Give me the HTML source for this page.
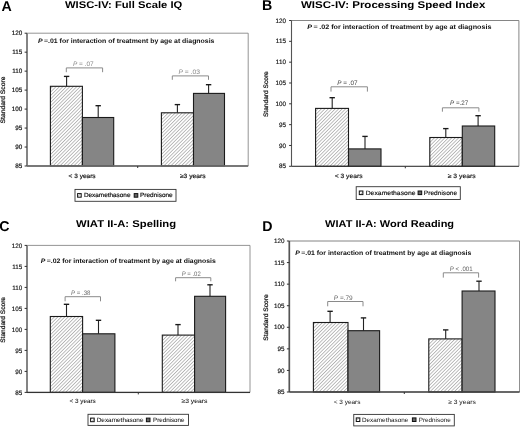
<!DOCTYPE html>
<html><head><meta charset="utf-8"><style>
html,body{margin:0;padding:0;background:#fff;}
svg{display:block;font-family:"Liberation Sans", sans-serif;will-change:transform;}
</style></head><body>
<svg width="520" height="427" viewBox="0 0 520 427" text-rendering="geometricPrecision">
<defs>
<pattern id="hatch" patternUnits="userSpaceOnUse" width="2.45" height="2.45" patternTransform="rotate(45)">
<rect width="2.45" height="2.45" fill="#fff"/><rect x="0" y="0" width="0.85" height="2.45" fill="#b2b2b2"/>
</pattern>
</defs>
<rect width="520" height="427" fill="#fff"/>
<path d="M27 33.2H248.2V166" fill="none" stroke="#888" stroke-width="0.9"/>
<path d="M66.6 86.3V76.4" stroke="#222" stroke-width="1.1" fill="none"/><path d="M63.9 76.4H69.3" stroke="#1a1a1a" stroke-width="1.35" fill="none"/>
<rect x="50.4" y="86.3" width="32" height="79.7" fill="url(#hatch)" stroke="#1a1a1a" stroke-width="1.1"/>
<path d="M98.2 117.5V105.7" stroke="#222" stroke-width="1.1" fill="none"/><path d="M95.5 105.7H100.9" stroke="#1a1a1a" stroke-width="1.35" fill="none"/>
<rect x="82.4" y="117.5" width="31.3" height="48.5" fill="#858585" stroke="#1a1a1a" stroke-width="1.1"/>
<path d="M177.4 112.8V104.6" stroke="#222" stroke-width="1.1" fill="none"/><path d="M174.7 104.6H180.1" stroke="#1a1a1a" stroke-width="1.35" fill="none"/>
<rect x="161.4" y="112.8" width="32.1" height="53.2" fill="url(#hatch)" stroke="#1a1a1a" stroke-width="1.1"/>
<path d="M208.6 93.4V84.7" stroke="#222" stroke-width="1.1" fill="none"/><path d="M205.9 84.7H211.3" stroke="#1a1a1a" stroke-width="1.35" fill="none"/>
<rect x="193.5" y="93.4" width="31" height="72.6" fill="#858585" stroke="#1a1a1a" stroke-width="1.1"/>
<rect x="26.1" y="33.2" width="1.8" height="132.8" fill="#777"/>
<rect x="27" y="165.1" width="221.2" height="1.8" fill="#6a6a6a"/>
<rect x="24.6" y="32.7" width="2.4" height="1" fill="#333"/>
<text transform="translate(22.2,35.3) scale(1,1)" font-size="6.3" fill="#111" stroke="#111" stroke-width="0.18" text-anchor="end">120</text>
<rect x="24.6" y="51.67" width="2.4" height="1" fill="#333"/>
<text transform="translate(22.2,54.27) scale(1,1)" font-size="6.3" fill="#111" stroke="#111" stroke-width="0.18" text-anchor="end">115</text>
<rect x="24.6" y="70.64" width="2.4" height="1" fill="#333"/>
<text transform="translate(22.2,73.24) scale(1,1)" font-size="6.3" fill="#111" stroke="#111" stroke-width="0.18" text-anchor="end">110</text>
<rect x="24.6" y="89.61" width="2.4" height="1" fill="#333"/>
<text transform="translate(22.2,92.21) scale(1,1)" font-size="6.3" fill="#111" stroke="#111" stroke-width="0.18" text-anchor="end">105</text>
<rect x="24.6" y="108.59" width="2.4" height="1" fill="#333"/>
<text transform="translate(22.2,111.19) scale(1,1)" font-size="6.3" fill="#111" stroke="#111" stroke-width="0.18" text-anchor="end">100</text>
<rect x="24.6" y="127.56" width="2.4" height="1" fill="#333"/>
<text transform="translate(22.2,130.16) scale(1,1)" font-size="6.3" fill="#111" stroke="#111" stroke-width="0.18" text-anchor="end">95</text>
<rect x="24.6" y="146.53" width="2.4" height="1" fill="#333"/>
<text transform="translate(22.2,149.13) scale(1,1)" font-size="6.3" fill="#111" stroke="#111" stroke-width="0.18" text-anchor="end">90</text>
<rect x="24.6" y="165.5" width="2.4" height="1" fill="#333"/>
<text transform="translate(22.2,168.1) scale(1,1)" font-size="6.3" fill="#111" stroke="#111" stroke-width="0.18" text-anchor="end">85</text>
<rect x="137.2" y="166" width="1" height="2" fill="#333"/>
<text transform="translate(5.3,123.5) rotate(-90)" font-size="6.4" font-weight="normal" fill="#111" stroke="#111" stroke-width="0.22" textLength="47" lengthAdjust="spacingAndGlyphs">Standard Score</text>
<text x="38" y="42.7" font-size="6.5" font-weight="bold" fill="#111" textLength="176.5" lengthAdjust="spacingAndGlyphs" text-anchor="start"><tspan font-style="italic">P</tspan> =.01 for interaction of treatment by age at diagnosis</text>
<path d="M66.3 72.2V67.9H102.6V72.2" fill="none" stroke="#8a8a8a" stroke-width="1"/>
<text x="72.9" y="65.8" font-size="6.4" font-weight="normal" fill="#8a8a8a" textLength="20.8" lengthAdjust="spacingAndGlyphs" text-anchor="start"><tspan font-style="italic">P</tspan> = .07</text>
<path d="M172.3 79.8V75.9H208.5V79.8" fill="none" stroke="#8a8a8a" stroke-width="1"/>
<text x="178.5" y="73.8" font-size="6.4" font-weight="normal" fill="#8a8a8a" textLength="21.5" lengthAdjust="spacingAndGlyphs" text-anchor="start"><tspan font-style="italic">P</tspan> = .03</text>
<text x="68.6" y="178.1" font-size="6.2" font-weight="normal" fill="#111" textLength="27" lengthAdjust="spacingAndGlyphs" text-anchor="start" stroke="#111" stroke-width="0.18">&lt; 3 years</text>
<text x="179.9" y="178.1" font-size="6.2" font-weight="normal" fill="#111" textLength="25.6" lengthAdjust="spacingAndGlyphs" text-anchor="start" stroke="#111" stroke-width="0.18">≥3 years</text>
<rect x="75" y="189.4" width="101" height="11.9" fill="#fff" stroke="#333" stroke-width="0.9"/>
<rect x="77.6" y="193.6" width="3.6" height="3.6" fill="url(#hatch)" stroke="#111" stroke-width="1"/>
<rect x="134.2" y="193.6" width="3.6" height="3.6" fill="#666" stroke="#111" stroke-width="1"/>
<text x="83.9" y="196.7" font-size="6.2" font-weight="normal" fill="#111" textLength="46.6" lengthAdjust="spacingAndGlyphs" text-anchor="start" stroke="#111" stroke-width="0.18">Dexamethasone</text>
<text x="140" y="196.7" font-size="6.2" font-weight="normal" fill="#111" textLength="32.7" lengthAdjust="spacingAndGlyphs" text-anchor="start" stroke="#111" stroke-width="0.18">Prednisone</text>
<text x="1.4" y="10.6" font-size="14.2" font-weight="bold" fill="#000" text-anchor="start">A</text>
<text x="65" y="7.7" font-size="9.8" font-weight="bold" fill="#000" textLength="117.3" lengthAdjust="spacingAndGlyphs" text-anchor="start">WISC-IV: Full Scale IQ</text>
<path d="M291.5 20.5H518.9V166.3" fill="none" stroke="#777" stroke-width="0.9"/>
<path d="M332.2 108.4V97.7" stroke="#222" stroke-width="1.1" fill="none"/><path d="M329.5 97.7H334.9" stroke="#1a1a1a" stroke-width="1.35" fill="none"/>
<rect x="315.6" y="108.4" width="32.9" height="57.9" fill="url(#hatch)" stroke="#1a1a1a" stroke-width="1.1"/>
<path d="M365 148.9V136.4" stroke="#222" stroke-width="1.1" fill="none"/><path d="M362.3 136.4H367.7" stroke="#1a1a1a" stroke-width="1.35" fill="none"/>
<rect x="348.5" y="148.9" width="32.5" height="17.4" fill="#858585" stroke="#1a1a1a" stroke-width="1.1"/>
<path d="M445.8 137.5V128.6" stroke="#222" stroke-width="1.1" fill="none"/><path d="M443.1 128.6H448.5" stroke="#1a1a1a" stroke-width="1.35" fill="none"/>
<rect x="429.8" y="137.5" width="32.5" height="28.8" fill="url(#hatch)" stroke="#1a1a1a" stroke-width="1.1"/>
<path d="M478.1 126V115.7" stroke="#222" stroke-width="1.1" fill="none"/><path d="M475.4 115.7H480.8" stroke="#1a1a1a" stroke-width="1.35" fill="none"/>
<rect x="462.3" y="126" width="32.4" height="40.3" fill="#858585" stroke="#1a1a1a" stroke-width="1.1"/>
<rect x="290.95" y="20.5" width="1.1" height="145.8" fill="#555"/>
<rect x="291.5" y="165.75" width="227.4" height="1.1" fill="#333"/>
<rect x="289.1" y="20" width="2.4" height="1" fill="#333"/>
<text transform="translate(285.9,22.6) scale(1,1)" font-size="6.3" fill="#111" stroke="#111" stroke-width="0.15" text-anchor="end">120</text>
<rect x="289.1" y="40.83" width="2.4" height="1" fill="#333"/>
<text transform="translate(285.9,43.43) scale(1,1)" font-size="6.3" fill="#111" stroke="#111" stroke-width="0.15" text-anchor="end">115</text>
<rect x="289.1" y="61.66" width="2.4" height="1" fill="#333"/>
<text transform="translate(285.9,64.26) scale(1,1)" font-size="6.3" fill="#111" stroke="#111" stroke-width="0.15" text-anchor="end">110</text>
<rect x="289.1" y="82.49" width="2.4" height="1" fill="#333"/>
<text transform="translate(285.9,85.09) scale(1,1)" font-size="6.3" fill="#111" stroke="#111" stroke-width="0.15" text-anchor="end">105</text>
<rect x="289.1" y="103.31" width="2.4" height="1" fill="#333"/>
<text transform="translate(285.9,105.91) scale(1,1)" font-size="6.3" fill="#111" stroke="#111" stroke-width="0.15" text-anchor="end">100</text>
<rect x="289.1" y="124.14" width="2.4" height="1" fill="#333"/>
<text transform="translate(285.9,126.74) scale(1,1)" font-size="6.3" fill="#111" stroke="#111" stroke-width="0.15" text-anchor="end">95</text>
<rect x="289.1" y="144.97" width="2.4" height="1" fill="#333"/>
<text transform="translate(285.9,147.57) scale(1,1)" font-size="6.3" fill="#111" stroke="#111" stroke-width="0.15" text-anchor="end">90</text>
<rect x="289.1" y="165.8" width="2.4" height="1" fill="#333"/>
<text transform="translate(285.9,168.4) scale(1,1)" font-size="6.3" fill="#111" stroke="#111" stroke-width="0.15" text-anchor="end">85</text>
<rect x="404.8" y="166.3" width="1" height="2" fill="#333"/>
<text transform="translate(268.3,117.1) rotate(-90)" font-size="6.4" font-weight="normal" fill="#111" stroke="#111" stroke-width="0.22" textLength="45.9" lengthAdjust="spacingAndGlyphs">Standard Score</text>
<text x="307.3" y="29" font-size="6.5" font-weight="bold" fill="#111" textLength="184.2" lengthAdjust="spacingAndGlyphs" text-anchor="start"><tspan font-style="italic">P</tspan> = .02 for interaction of treatment by age at diagnosis</text>
<path d="M331 91.6V86.8H367.4V91.6" fill="none" stroke="#8a8a8a" stroke-width="1"/>
<text x="337.2" y="84.6" font-size="6.4" font-weight="normal" fill="#444" textLength="20.4" lengthAdjust="spacingAndGlyphs" text-anchor="start"><tspan font-style="italic">P</tspan> = .07</text>
<path d="M442.4 111.7V107.8H478.9V111.7" fill="none" stroke="#8a8a8a" stroke-width="1"/>
<text x="450" y="105.1" font-size="6.4" font-weight="normal" fill="#444" textLength="18.3" lengthAdjust="spacingAndGlyphs" text-anchor="start"><tspan font-style="italic">P</tspan> =.27</text>
<text x="334.7" y="177.8" font-size="6.2" font-weight="normal" fill="#111" textLength="27.9" lengthAdjust="spacingAndGlyphs" text-anchor="start" stroke="#111" stroke-width="0.15">&lt; 3 years</text>
<text x="447.7" y="177.8" font-size="6.2" font-weight="normal" fill="#111" textLength="28" lengthAdjust="spacingAndGlyphs" text-anchor="start" stroke="#111" stroke-width="0.15">≥ 3 years</text>
<rect x="356.2" y="186.7" width="104.1" height="12.8" fill="#fff" stroke="#333" stroke-width="0.9"/>
<rect x="359.3" y="191" width="3.6" height="3.6" fill="url(#hatch)" stroke="#111" stroke-width="1"/>
<rect x="418.1" y="191" width="3.6" height="3.6" fill="#666" stroke="#111" stroke-width="1"/>
<text x="365.7" y="194.5" font-size="6.2" font-weight="normal" fill="#111" textLength="49.8" lengthAdjust="spacingAndGlyphs" text-anchor="start" stroke="#111" stroke-width="0.15">Dexamethasone</text>
<text x="423.8" y="194.5" font-size="6.2" font-weight="normal" fill="#111" textLength="33.4" lengthAdjust="spacingAndGlyphs" text-anchor="start" stroke="#111" stroke-width="0.15">Prednisone</text>
<text x="262" y="9.6" font-size="14.2" font-weight="bold" fill="#000" text-anchor="start">B</text>
<text x="301" y="7.9" font-size="9.8" font-weight="bold" fill="#000" textLength="184.4" lengthAdjust="spacingAndGlyphs" text-anchor="start">WISC-IV: Processing Speed Index</text>
<path d="M27 245.4H250V392.4" fill="none" stroke="#888" stroke-width="0.9"/>
<path d="M66.5 316.5V304.3" stroke="#222" stroke-width="1.1" fill="none"/><path d="M63.8 304.3H69.2" stroke="#1a1a1a" stroke-width="1.35" fill="none"/>
<rect x="50.3" y="316.5" width="32.3" height="75.9" fill="url(#hatch)" stroke="#1a1a1a" stroke-width="1.1"/>
<path d="M98.5 333.8V320.3" stroke="#222" stroke-width="1.1" fill="none"/><path d="M95.8 320.3H101.2" stroke="#1a1a1a" stroke-width="1.35" fill="none"/>
<rect x="82.6" y="333.8" width="32.3" height="58.6" fill="#858585" stroke="#1a1a1a" stroke-width="1.1"/>
<path d="M178 335.1V324.6" stroke="#222" stroke-width="1.1" fill="none"/><path d="M175.3 324.6H180.7" stroke="#1a1a1a" stroke-width="1.35" fill="none"/>
<rect x="162.3" y="335.1" width="32.3" height="57.3" fill="url(#hatch)" stroke="#1a1a1a" stroke-width="1.1"/>
<path d="M210 296.3V284.8" stroke="#222" stroke-width="1.1" fill="none"/><path d="M207.3 284.8H212.7" stroke="#1a1a1a" stroke-width="1.35" fill="none"/>
<rect x="194.6" y="296.3" width="31" height="96.1" fill="#858585" stroke="#1a1a1a" stroke-width="1.1"/>
<rect x="26.1" y="245.4" width="1.8" height="147" fill="#777"/>
<rect x="27" y="391.75" width="223" height="1.3" fill="#333"/>
<rect x="24.6" y="244.9" width="2.4" height="1" fill="#333"/>
<text transform="translate(22.2,247.5) scale(1,1)" font-size="6.3" fill="#111" stroke="#111" stroke-width="0.15" text-anchor="end">120</text>
<rect x="24.6" y="265.9" width="2.4" height="1" fill="#333"/>
<text transform="translate(22.2,268.5) scale(1,1)" font-size="6.3" fill="#111" stroke="#111" stroke-width="0.15" text-anchor="end">115</text>
<rect x="24.6" y="286.9" width="2.4" height="1" fill="#333"/>
<text transform="translate(22.2,289.5) scale(1,1)" font-size="6.3" fill="#111" stroke="#111" stroke-width="0.15" text-anchor="end">110</text>
<rect x="24.6" y="307.9" width="2.4" height="1" fill="#333"/>
<text transform="translate(22.2,310.5) scale(1,1)" font-size="6.3" fill="#111" stroke="#111" stroke-width="0.15" text-anchor="end">105</text>
<rect x="24.6" y="328.9" width="2.4" height="1" fill="#333"/>
<text transform="translate(22.2,331.5) scale(1,1)" font-size="6.3" fill="#111" stroke="#111" stroke-width="0.15" text-anchor="end">100</text>
<rect x="24.6" y="349.9" width="2.4" height="1" fill="#333"/>
<text transform="translate(22.2,352.5) scale(1,1)" font-size="6.3" fill="#111" stroke="#111" stroke-width="0.15" text-anchor="end">95</text>
<rect x="24.6" y="370.9" width="2.4" height="1" fill="#333"/>
<text transform="translate(22.2,373.5) scale(1,1)" font-size="6.3" fill="#111" stroke="#111" stroke-width="0.15" text-anchor="end">90</text>
<rect x="24.6" y="391.9" width="2.4" height="1" fill="#333"/>
<text transform="translate(22.2,394.5) scale(1,1)" font-size="6.3" fill="#111" stroke="#111" stroke-width="0.15" text-anchor="end">85</text>
<rect x="137.8" y="392.4" width="1" height="2" fill="#333"/>
<text transform="translate(4.6,342.8) rotate(-90)" font-size="6.4" font-weight="normal" fill="#111" stroke="#111" stroke-width="0.22" textLength="45.8" lengthAdjust="spacingAndGlyphs">Standard Score</text>
<text x="40.8" y="262.5" font-size="6.5" font-weight="bold" fill="#111" textLength="175" lengthAdjust="spacingAndGlyphs" text-anchor="start"><tspan font-style="italic">P</tspan> =.02 for interaction of treatment by age at diagnosis</text>
<path d="M65.1 301.3V296.7H100.5V301.3" fill="none" stroke="#8a8a8a" stroke-width="1"/>
<text x="71.1" y="294.6" font-size="6.4" font-weight="normal" fill="#707070" textLength="19.4" lengthAdjust="spacingAndGlyphs" text-anchor="start"><tspan font-style="italic">P</tspan> = .38</text>
<path d="M175.6 281.3V277.7H210.8V281.3" fill="none" stroke="#8a8a8a" stroke-width="1"/>
<text x="181.7" y="275.5" font-size="6.4" font-weight="normal" fill="#707070" textLength="19" lengthAdjust="spacingAndGlyphs" text-anchor="start"><tspan font-style="italic">P</tspan> = .02</text>
<text x="69.4" y="403.2" font-size="6.2" font-weight="normal" fill="#111" textLength="26.4" lengthAdjust="spacingAndGlyphs" text-anchor="start" stroke="#111" stroke-width="0.05">&lt; 3 years</text>
<text x="181.4" y="403.2" font-size="6.2" font-weight="normal" fill="#111" textLength="26.1" lengthAdjust="spacingAndGlyphs" text-anchor="start" stroke="#111" stroke-width="0.05">≥3 years</text>
<rect x="88" y="414.3" width="100.5" height="11.1" fill="#fff" stroke="#333" stroke-width="0.9"/>
<rect x="90.6" y="418.1" width="3.6" height="3.6" fill="url(#hatch)" stroke="#111" stroke-width="1"/>
<rect x="146.4" y="418.1" width="3.6" height="3.6" fill="#666" stroke="#111" stroke-width="1"/>
<text x="96.7" y="421.5" font-size="6.2" font-weight="normal" fill="#111" textLength="46.8" lengthAdjust="spacingAndGlyphs" text-anchor="start" stroke="#111" stroke-width="0.05">Dexamethasone</text>
<text x="153.1" y="421.5" font-size="6.2" font-weight="normal" fill="#111" textLength="31.3" lengthAdjust="spacingAndGlyphs" text-anchor="start" stroke="#111" stroke-width="0.05">Prednisone</text>
<text x="-0.8" y="231.2" font-size="14.2" font-weight="bold" fill="#000" text-anchor="start">C</text>
<text x="76.1" y="227.3" font-size="9.8" font-weight="bold" fill="#000" textLength="100" lengthAdjust="spacingAndGlyphs" text-anchor="start">WIAT II-A: Spelling</text>
<path d="M289.3 241H519.6V392" fill="none" stroke="#777" stroke-width="0.9"/>
<path d="M330.1 322.5V311.3" stroke="#222" stroke-width="1.1" fill="none"/><path d="M327.4 311.3H332.8" stroke="#1a1a1a" stroke-width="1.35" fill="none"/>
<rect x="313.4" y="322.5" width="34.6" height="69.5" fill="url(#hatch)" stroke="#1a1a1a" stroke-width="1.1"/>
<path d="M363.5 330.7V317.9" stroke="#222" stroke-width="1.1" fill="none"/><path d="M360.8 317.9H366.2" stroke="#1a1a1a" stroke-width="1.35" fill="none"/>
<rect x="348" y="330.7" width="31.6" height="61.3" fill="#858585" stroke="#1a1a1a" stroke-width="1.1"/>
<path d="M445.7 338.9V329.9" stroke="#222" stroke-width="1.1" fill="none"/><path d="M443 329.9H448.4" stroke="#1a1a1a" stroke-width="1.35" fill="none"/>
<rect x="428.8" y="338.9" width="33.3" height="53.1" fill="url(#hatch)" stroke="#1a1a1a" stroke-width="1.1"/>
<path d="M479 291V281.2" stroke="#222" stroke-width="1.1" fill="none"/><path d="M476.3 281.2H481.7" stroke="#1a1a1a" stroke-width="1.35" fill="none"/>
<rect x="462.1" y="291" width="32.9" height="101" fill="#858585" stroke="#1a1a1a" stroke-width="1.1"/>
<rect x="288.45" y="241" width="1.7" height="151" fill="#555"/>
<rect x="289.3" y="391.2" width="230.3" height="1.6" fill="#444"/>
<rect x="286.9" y="240.5" width="2.4" height="1" fill="#333"/>
<text transform="translate(284.4,243.1) scale(1,1)" font-size="6.3" fill="#111" stroke="#111" stroke-width="0.15" text-anchor="end">120</text>
<rect x="286.9" y="262.07" width="2.4" height="1" fill="#333"/>
<text transform="translate(284.4,264.67) scale(1,1)" font-size="6.3" fill="#111" stroke="#111" stroke-width="0.15" text-anchor="end">115</text>
<rect x="286.9" y="283.64" width="2.4" height="1" fill="#333"/>
<text transform="translate(284.4,286.24) scale(1,1)" font-size="6.3" fill="#111" stroke="#111" stroke-width="0.15" text-anchor="end">110</text>
<rect x="286.9" y="305.21" width="2.4" height="1" fill="#333"/>
<text transform="translate(284.4,307.81) scale(1,1)" font-size="6.3" fill="#111" stroke="#111" stroke-width="0.15" text-anchor="end">105</text>
<rect x="286.9" y="326.79" width="2.4" height="1" fill="#333"/>
<text transform="translate(284.4,329.39) scale(1,1)" font-size="6.3" fill="#111" stroke="#111" stroke-width="0.15" text-anchor="end">100</text>
<rect x="286.9" y="348.36" width="2.4" height="1" fill="#333"/>
<text transform="translate(284.4,350.96) scale(1,1)" font-size="6.3" fill="#111" stroke="#111" stroke-width="0.15" text-anchor="end">95</text>
<rect x="286.9" y="369.93" width="2.4" height="1" fill="#333"/>
<text transform="translate(284.4,372.53) scale(1,1)" font-size="6.3" fill="#111" stroke="#111" stroke-width="0.15" text-anchor="end">90</text>
<rect x="286.9" y="391.5" width="2.4" height="1" fill="#333"/>
<text transform="translate(284.4,394.1) scale(1,1)" font-size="6.3" fill="#111" stroke="#111" stroke-width="0.15" text-anchor="end">85</text>
<rect x="403.8" y="392" width="1" height="2" fill="#333"/>
<text transform="translate(267.5,340.7) rotate(-90)" font-size="6.4" font-weight="normal" fill="#111" stroke="#111" stroke-width="0.22" textLength="46.4" lengthAdjust="spacingAndGlyphs">Standard Score</text>
<text x="295.2" y="255" font-size="6.5" font-weight="bold" fill="#111" textLength="176.2" lengthAdjust="spacingAndGlyphs" text-anchor="start"><tspan font-style="italic">P</tspan> =.01 for interaction of treatment by age at diagnosis</text>
<path d="M327.7 306.3V301.5H363V306.3" fill="none" stroke="#8a8a8a" stroke-width="1"/>
<text x="333.8" y="300" font-size="6.4" font-weight="normal" fill="#666" textLength="18.9" lengthAdjust="spacingAndGlyphs" text-anchor="start"><tspan font-style="italic">P</tspan> =.79</text>
<path d="M443.3 277.6V272.8H478.6V277.6" fill="none" stroke="#8a8a8a" stroke-width="1"/>
<text x="449.8" y="270.9" font-size="6.4" font-weight="normal" fill="#666" textLength="22.8" lengthAdjust="spacingAndGlyphs" text-anchor="start"><tspan font-style="italic">P</tspan> &lt; .001</text>
<text x="333.75" y="403.8" font-size="6.2" font-weight="normal" fill="#111" textLength="26.75" lengthAdjust="spacingAndGlyphs" text-anchor="start" stroke="#111" stroke-width="0.0">&lt; 3 years</text>
<text x="448.2" y="403.8" font-size="6.2" font-weight="normal" fill="#111" textLength="27.6" lengthAdjust="spacingAndGlyphs" text-anchor="start" stroke="#111" stroke-width="0.0">≥ 3 years</text>
<rect x="353.75" y="414.4" width="100.55" height="11.5" fill="#fff" stroke="#333" stroke-width="0.9"/>
<rect x="356.25" y="417.9" width="3.6" height="3.6" fill="url(#hatch)" stroke="#111" stroke-width="1"/>
<rect x="412.4" y="417.9" width="3.6" height="3.6" fill="#666" stroke="#111" stroke-width="1"/>
<text x="362" y="421.6" font-size="6.2" font-weight="normal" fill="#111" textLength="46.25" lengthAdjust="spacingAndGlyphs" text-anchor="start" stroke="#111" stroke-width="0.0">Dexamethasone</text>
<text x="418.75" y="421.6" font-size="6.2" font-weight="normal" fill="#111" textLength="32" lengthAdjust="spacingAndGlyphs" text-anchor="start" stroke="#111" stroke-width="0.0">Prednisone</text>
<text x="262.3" y="230.6" font-size="14.2" font-weight="bold" fill="#000" text-anchor="start">D</text>
<text x="325.1" y="226.7" font-size="9.8" font-weight="bold" fill="#000" textLength="129" lengthAdjust="spacingAndGlyphs" text-anchor="start">WIAT II-A: Word Reading</text>
</svg>
</body></html>
